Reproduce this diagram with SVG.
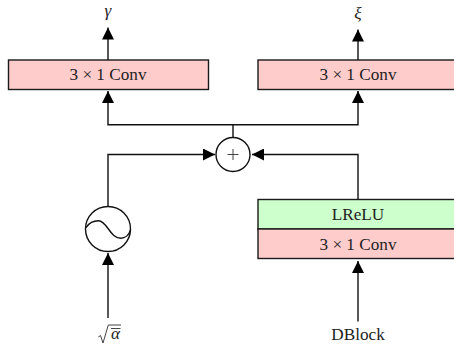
<svg xmlns="http://www.w3.org/2000/svg" width="454" height="345" viewBox="0 0 454 345">
<style>
.t{font-family:"Liberation Serif","Times New Roman",serif;font-size:17.2px;fill:#222;text-anchor:middle}
.i{font-style:italic}
.c{fill:#ffcccc;stroke:#1a1a1a;stroke-width:1.4}
.g{fill:#ccffcc;stroke:#1a1a1a;stroke-width:1.4}
.n{fill:#fff;stroke:#111;stroke-width:1.4}
.l{fill:none;stroke:#111;stroke-width:1.4}
.r{fill:none;stroke:#444;stroke-width:1}
</style>
<defs>
<marker id="a" markerUnits="userSpaceOnUse" markerWidth="12" markerHeight="12" refX="12" refY="6" orient="auto"><path d="M0 0L12 6L0 12z" fill="#000"/></marker>
</defs>
<g id="connectors">
<path class="l" d="M108 60V27.500" marker-end="url(#a)"/>
<path class="l" d="M358 60V29.500" marker-end="url(#a)"/>
<path class="l" d="M233 137.500V124.800H108V91" marker-end="url(#a)"/>
<path class="l" d="M233 124.800H358V91" marker-end="url(#a)"/>
<path class="l" d="M108 206.500V154.500H215" marker-end="url(#a)"/>
<path class="l" d="M358 199.500V154.500H252" marker-end="url(#a)"/>
<path class="l" d="M108 318V253" marker-end="url(#a)"/>
<path class="l" d="M358 321.500V261" marker-end="url(#a)"/>
</g>
<g id="conv-gamma"><rect class="c" x="8.500" y="60" width="200" height="29.500"/><text class="t" x="108" y="80">3 × 1 Conv</text></g>
<g id="conv-xi"><rect class="c" x="258" y="60" width="200" height="29.500"/><text class="t" x="358" y="80">3 × 1 Conv</text></g>
<g id="lrelu"><rect class="g" x="258" y="199.500" width="200" height="29.500"/><text class="t" x="358" y="220">LReLU</text></g>
<g id="conv-in"><rect class="c" x="258" y="229" width="200" height="29.500"/><text class="t" x="358" y="250">3 × 1 Conv</text></g>
<g id="sum"><circle class="n" cx="233" cy="154.500" r="17"/><path class="r" d="M227.500 154.500H238.500M233 149V160"/></g>
<g id="osc"><circle class="n" cx="108" cy="229" r="22.500"/><path class="l" d="M86 227.500C89 223 94 220.700 98.500 220.700C107 220.700 110 238.300 120.700 238.300C125 238.300 129 235 130.500 230"/></g>
<g id="label-gamma"><text class="t i" x="108" y="16">γ</text></g>
<g id="label-xi"><text class="t i" x="358" y="19">ξ</text></g>
<g id="label-alpha"><path class="r" d="M98.300 337L100.500 335.500L103 343L108.300 325H121M111 328.500H120.500"/><text class="t i" x="115.500" y="338.500">α</text></g>
<g id="label-dblock"><text class="t" x="358" y="340">DBlock</text></g>
</svg>
